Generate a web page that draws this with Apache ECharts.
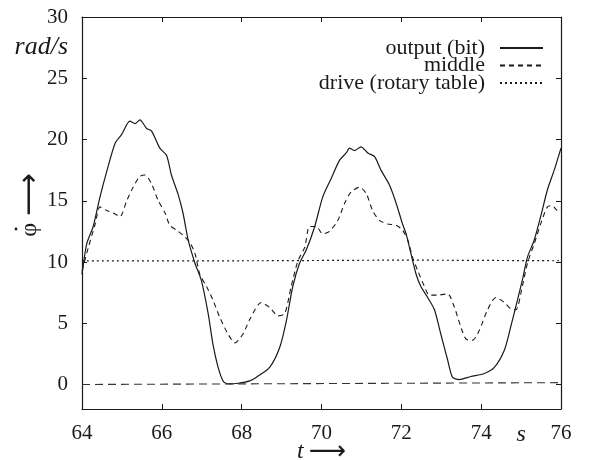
<!DOCTYPE html>
<html>
<head>
<meta charset="utf-8">
<script src="https://cdn.jsdelivr.net/npm/echarts@6/dist/echarts.min.js"></script>
<style>
  html, body { margin: 0; background: #fff; }
  #main { width: 605px; height: 460px; }
</style>
</head>
<body>
<div id="main"></div>
<script>
// values, t in s, phi-dot in rad/s
const outputT = [64.0, 64.12, 64.28, 64.45, 64.62, 64.83, 64.99, 65.2, 65.33, 65.45, 65.62, 65.74, 65.95, 66.12, 66.24, 66.41, 66.53, 66.66, 66.83, 66.99, 67.16, 67.28, 67.41, 67.53, 67.6, 67.7, 67.91, 68.2, 68.37, 68.7, 68.95, 69.12, 69.28, 69.45, 69.62, 69.83, 70.03, 70.24, 70.45, 70.62, 70.7, 70.83, 70.99, 71.16, 71.33, 71.49, 71.7, 71.87, 72.03, 72.12, 72.24, 72.37, 72.49, 72.66, 72.83, 72.99, 73.16, 73.28, 73.45, 73.74, 74.08, 74.33, 74.58, 74.74, 74.91, 75.03, 75.16, 75.33, 75.49, 75.66, 75.83, 76.0];
const outputV = [9.0, 11.5, 12.9, 15.3, 17.4, 19.7, 20.4, 21.5, 21.3, 21.6, 20.9, 20.7, 19.3, 18.7, 17.1, 15.5, 14.0, 11.8, 9.9, 8.5, 5.8, 3.3, 1.4, 0.3, 0.1, 0.05, 0.1, 0.3, 0.6, 1.4, 3.0, 5.2, 8.0, 9.9, 11.0, 12.9, 15.3, 16.8, 18.3, 18.9, 19.3, 19.1, 19.4, 18.9, 18.6, 17.5, 16.3, 14.8, 13.1, 12.3, 10.7, 9.0, 8.0, 7.1, 6.1, 4.1, 2.0, 0.6, 0.4, 0.65, 0.9, 1.4, 2.8, 4.7, 6.9, 8.5, 10.4, 11.8, 13.7, 15.9, 17.5, 19.3];

const middleT = [64.0, 64.16, 64.33, 64.45, 64.62, 64.78, 64.95, 65.12, 65.28, 65.45, 65.58, 65.74, 65.91, 66.08, 66.2, 66.37, 66.53, 66.7, 66.83, 66.95, 67.12, 67.28, 67.45, 67.66, 67.83, 68.03, 68.2, 68.49, 68.7, 68.91, 69.08, 69.24, 69.41, 69.58, 69.7, 69.87, 70.03, 70.2, 70.41, 70.58, 70.74, 70.95, 71.12, 71.28, 71.45, 71.66, 71.87, 72.03, 72.16, 72.28, 72.41, 72.58, 72.7, 72.91, 73.16, 73.33, 73.49, 73.62, 73.78, 73.95, 74.16, 74.37, 74.58, 74.74, 74.87, 75.03, 75.16, 75.33, 75.49, 75.66, 75.78, 75.91, 76.0];
const middleV = [9.3, 11.2, 13.1, 14.5, 14.2, 14.0, 13.7, 15.0, 16.1, 17.0, 17.1, 16.4, 15.0, 14.0, 13.0, 12.6, 12.2, 11.6, 10.7, 9.0, 8.0, 6.9, 5.5, 4.1, 3.4, 4.1, 5.3, 6.7, 6.3, 5.6, 5.8, 8.0, 10.1, 11.2, 12.9, 12.9, 12.3, 12.5, 13.4, 14.8, 15.7, 16.1, 15.6, 14.2, 13.4, 13.1, 13.0, 12.6, 11.8, 10.4, 9.3, 8.0, 7.3, 7.3, 7.4, 6.3, 4.7, 3.7, 3.6, 4.4, 6.1, 7.1, 6.7, 6.2, 6.1, 8.0, 9.9, 11.5, 13.1, 14.5, 14.6, 14.2, 14.4];

const driveT = [64, 68, 72, 76];
const driveV = [10.1, 10.1, 10.15, 10.1];

const zeroT = [64, 76];
const zeroV = [0, 0.15];

const xLabels = [64, 66, 68, 70, 72, 74, 75, 76];
const xTicks = [64, 66, 68, 70, 72, 74, 76];
const yTicks = [0, 5, 10, 15, 20, 25, 30];

const names = ["output (bit)", "middle", "drive (rotary table)"];

const pairs = (ts, vs) => ts.map((t, i) => [t, vs[i]]);

const ink = "#1a1a1a";
const serif = "Liberation Serif";

const chart = echarts.init(document.getElementById("main"));

const xBase = {
  type: "value",
  min: 64,
  max: 76,
  splitLine: { show: false },
  axisLine: { show: true, onZero: false, lineStyle: { color: ink, width: 1.2 } },
  axisTick: { inside: true, length: 5, customValues: xTicks, lineStyle: { color: ink } },
};
const yBase = {
  type: "value",
  min: -2,
  max: 30,
  splitLine: { show: false },
  axisLine: { show: true, onZero: false, lineStyle: { color: ink, width: 1.2 } },
  axisTick: { inside: true, length: 5, customValues: yTicks, lineStyle: { color: ink } },
};

const lineSeries = (name, data, type, width) => ({
  name,
  type: "line",
  data,
  symbol: "none",
  showSymbol: false,
  smooth: 0.25,
  lineStyle: { color: ink, width, type },
  itemStyle: { color: ink },
});

const options = {
  animation: false,
  backgroundColor: "#fff",
  grid: { left: 82, right: 44, top: 17, bottom: 51, containLabel: false, outerBoundsMode: "none" },
  legend: {
    data: names,
    orient: "vertical",
    align: "right",
    right: 61,
    top: 37,
    padding: 0,
    itemWidth: 43,
    itemHeight: 12,
    itemGap: -4.5,
    itemStyle: { opacity: 0 },
    textStyle: { fontFamily: serif, fontSize: 22, color: ink, padding: [0, 10, 0, 0] },
  },
  xAxis: [
    {
      ...xBase,
      position: "bottom",
      name: "{i|t} {a|⟶}",
      nameLocation: "middle",
      nameGap: 30,
      nameMoveOverlap: false,
      nameTextStyle: {
        fontFamily: serif,
        fontSize: 21,
        color: ink,
        rich: {
          i: { fontFamily: serif, fontStyle: "italic", fontSize: 24, color: ink },
          a: { fontFamily: "DejaVu Sans", fontSize: 26, color: ink },
        },
      },
      axisLabel: {
        customValues: xLabels,
        margin: 14,
        fontFamily: serif,
        fontSize: 21,
        color: ink,
        formatter: (v) => (v === 75 ? "{i|s}" : String(v)),
        rich: { i: { fontFamily: serif, fontStyle: "italic", fontSize: 24, color: ink } },
      },
    },
    { ...xBase, position: "top", axisLabel: { show: false } },
  ],
  yAxis: [
    {
      ...yBase,
      position: "left",
      axisLabel: { customValues: yTicks, margin: 14, fontFamily: serif, fontSize: 21, color: ink },
    },
    { ...yBase, position: "right", axisLabel: { show: false } },
  ],
  graphic: [
    {
      type: "text",
      style: {
        x: 68,
        y: 47,
        text: "rad/s",
        align: "right",
        verticalAlign: "middle",
        font: 'italic 26px "Liberation Serif"',
        fill: ink,
      },
    },
    {
      type: "text",
      x: 30,
      y: 205,
      rotation: Math.PI / 2,
      style: {
        text: "{p|φ}  {a|⟶}",
        align: "center",
        verticalAlign: "middle",
        rich: {
          p: { fontFamily: serif, fontSize: 24, fill: ink },
          a: { fontFamily: "DejaVu Sans", fontSize: 30, fill: ink },
        },
      },
    },
    {
      type: "circle",
      shape: { cx: 16, cy: 229, r: 1.4 },
      style: { fill: ink },
    },
  ],
  series: [
    lineSeries(names[0], pairs(outputT, outputV), "solid", 1.2),
    lineSeries(names[1], pairs(middleT, middleV), [5, 4], 1.1),
    lineSeries(names[2], pairs(driveT, driveV), [2, 3], 1.2),
    {
      name: "zero",
      type: "line",
      data: pairs(zeroT, zeroV),
      symbol: "none",
      lineStyle: { color: "#333", width: 1.1, type: [8, 5] },
    },
  ],
};

chart.setOption(options);
</script>
</body>
</html>
